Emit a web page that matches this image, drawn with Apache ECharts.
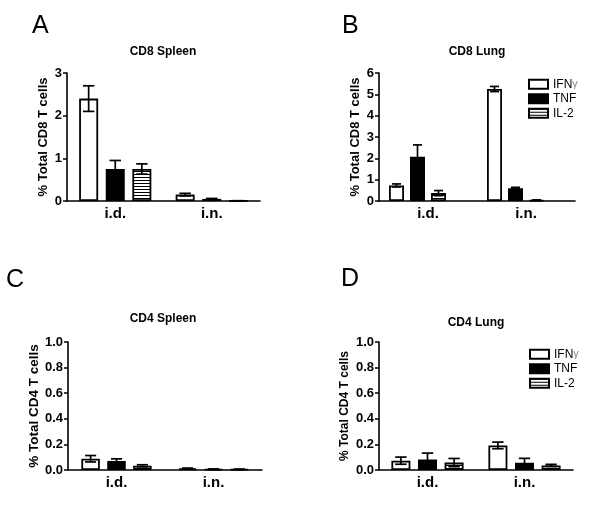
<!DOCTYPE html>
<html>
<head>
<meta charset="utf-8">
<script src="https://cdn.jsdelivr.net/npm/echarts@6/dist/echarts.min.js"></script>
<style>
html,body{margin:0;padding:0;background:#fff;}
#c{width:600px;height:516px;}
</style>
</head>
<body>
<div id="c"></div>
<script>
// ---------- data ----------
const categories = ['i.d.', 'i.n.'];
const seriesNames = ['IFNγ', 'TNF', 'IL-2'];

// CD8 Spleen (A)
const cd8SpleenIFN = [2.40, 0.15];
const cd8SpleenTNF = [0.75, 0.05];
const cd8SpleenIL2 = [0.75, 0.005];
const cd8SpleenIFNsem = [0.30, 0.03];
const cd8SpleenTNFsem = [0.20, 0.01];
const cd8SpleenIL2sem = [0.12, 0.002];

// CD8 Lung (B)
const cd8LungIFN = [0.73, 5.25];
const cd8LungTNF = [2.08, 0.60];
const cd8LungIL2 = [0.37, 0.04];
const cd8LungIFNsem = [0.07, 0.12];
const cd8LungTNFsem = [0.55, 0.04];
const cd8LungIL2sem = [0.12, 0.01];

// CD4 Spleen (C)
const cd4SpleenIFN = [0.088, 0.012];
const cd4SpleenTNF = [0.070, 0.006];
const cd4SpleenIL2 = [0.033, 0.005];
const cd4SpleenIFNsem = [0.025, 0.003];
const cd4SpleenTNFsem = [0.017, 0.002];
const cd4SpleenIL2sem = [0.008, 0.002];

// CD4 Lung (D)
const cd4LungIFN = [0.073, 0.192];
const cd4LungTNF = [0.082, 0.056];
const cd4LungIL2 = [0.058, 0.036];
const cd4LungIFNsem = [0.028, 0.026];
const cd4LungTNFsem = [0.050, 0.035];
const cd4LungIL2sem = [0.032, 0.008];

// axis ticks
const cd8SpleenTicks = [0, 1, 2, 3];
const cd8LungTicks = [0, 1, 2, 3, 4, 5, 6];
const cd4Ticks = [0.0, 0.2, 0.4, 0.6, 0.8, 1.0];

// ---------- styling ----------
const FONT = "'Liberation Sans', Arial, sans-serif";

// horizontal stripe pattern for IL-2
const pc = document.createElement('canvas');
pc.width = 4; pc.height = 3;
const pctx = pc.getContext('2d');
pctx.fillStyle = '#fff'; pctx.fillRect(0, 0, 4, 3);
pctx.fillStyle = '#000'; pctx.fillRect(0, 0, 4, 1);
const stripe = { image: pc, repeat: 'repeat' };
const fills = ['#ffffff', '#000000', stripe];

const panels = [
  { title: 'CD8 Spleen', letter: 'A', yName: '% Total CD8 T cells',
    grid: { left: 67, top: 73, width: 193, height: 128 },
    ticks: cd8SpleenTicks, dec: 0, bw: 19, slots: 3, nameGap: 17, nameSize: 13,
    vals: [cd8SpleenIFN, cd8SpleenTNF, cd8SpleenIL2],
    sems: [cd8SpleenIFNsem, cd8SpleenTNFsem, cd8SpleenIL2sem],
    titleX: 163, titleY: 46, letterX: 32, letterY: 14 },
  { title: 'CD8 Lung', letter: 'B', yName: '% Total CD8 T cells',
    grid: { left: 379, top: 73, width: 196, height: 128 },
    ticks: cd8LungTicks, dec: 0, bw: 15, slots: 4, nameGap: 17, nameSize: 13,
    vals: [cd8LungIFN, cd8LungTNF, cd8LungIL2],
    sems: [cd8LungIFNsem, cd8LungTNFsem, cd8LungIL2sem],
    titleX: 477, titleY: 46, letterX: 342, letterY: 14 },
  { title: 'CD4 Spleen', letter: 'C', yName: '% Total CD4 T cells',
    grid: { left: 68, top: 342, width: 194, height: 128 },
    ticks: cd4Ticks, dec: 1, bw: 18.5, slots: 3, nameGap: 27, nameSize: 13.5,
    vals: [cd4SpleenIFN, cd4SpleenTNF, cd4SpleenIL2],
    sems: [cd4SpleenIFNsem, cd4SpleenTNFsem, cd4SpleenIL2sem],
    titleX: 163, titleY: 313, letterX: 6, letterY: 268 },
  { title: 'CD4 Lung', letter: 'D', yName: '% Total CD4 T cells',
    grid: { left: 379, top: 342, width: 194, height: 128 },
    ticks: cd4Ticks, dec: 1, bw: 19, slots: 3, nameGap: 28, nameSize: 12,
    vals: [cd4LungIFN, cd4LungTNF, cd4LungIL2],
    sems: [cd4LungIFNsem, cd4LungTNFsem, cd4LungIL2sem],
    titleX: 476, titleY: 317, letterX: 341, letterY: 267 }
];

const GAP = 0.4;

function errRender(k, slots, bw) {
  const step = bw * (1 + GAP);
  const cap = bw * 0.6;
  return function (params, api) {
    const c = api.value(0), m = api.value(1), s = api.value(2);
    const p = api.coord([c, m]);
    const x = p[0] + (k - (slots - 1) / 2) * step;
    const yt = api.coord([c, m + s])[1];
    const yb = api.coord([c, Math.max(m - s, 0)])[1];
    const st = { stroke: '#000', lineWidth: 1.7 };
    return {
      type: 'group',
      children: [
        { type: 'line', shape: { x1: x, y1: yt, x2: x, y2: yb }, style: st },
        { type: 'line', shape: { x1: x - cap / 2, y1: yt, x2: x + cap / 2, y2: yt }, style: st },
        { type: 'line', shape: { x1: x - cap / 2, y1: yb, x2: x + cap / 2, y2: yb }, style: st }
      ]
    };
  };
}

const option = {
  animation: false,
  backgroundColor: '#fff',
  textStyle: { fontFamily: FONT },
  title: [], grid: [], xAxis: [], yAxis: [], series: [],
  legend: []
};

panels.forEach((p, i) => {
  option.title.push({
    text: p.title, left: p.titleX, top: p.titleY, textAlign: 'center', padding: 0,
    textStyle: { fontFamily: FONT, fontSize: 12, fontWeight: 'bold', color: '#000' }
  });
  option.title.push({
    text: p.letter, left: p.letterX, top: p.letterY, padding: 0,
    textStyle: { fontFamily: FONT, fontSize: 25, fontWeight: 'normal', color: '#000' }
  });
  option.grid.push(Object.assign({ containLabel: false }, p.grid));
  option.xAxis.push({
    type: 'category', gridIndex: i, data: categories,
    axisLine: { lineStyle: { color: '#000', width: 1.6 } },
    axisTick: { alignWithLabel: true, length: 4, lineStyle: { color: '#000', width: 1.5 } },
    axisLabel: { color: '#000', fontFamily: FONT, fontSize: 15, fontWeight: 'bold', margin: 5 },
    splitLine: { show: false }
  });
  const t = p.ticks;
  option.yAxis.push({
    type: 'value', gridIndex: i, min: t[0], max: t[t.length - 1],
    interval: t[1] - t[0],
    name: p.yName, nameLocation: 'middle', nameGap: p.nameGap,
    nameTextStyle: { color: '#000', fontFamily: FONT, fontSize: p.nameSize, fontWeight: 'bold' },
    axisLine: { show: true, lineStyle: { color: '#000', width: 1.6 } },
    axisTick: { show: true, length: 4, lineStyle: { color: '#000', width: 1.5 } },
    axisLabel: { color: '#000', fontFamily: FONT, fontSize: 13, fontWeight: 'bold', margin: 5,
      formatter: v => v.toFixed(p.dec) },
    splitLine: { show: false }
  });
  p.vals.forEach((arr, k) => {
    option.series.push({
      type: 'bar', name: seriesNames[k], xAxisIndex: i, yAxisIndex: i,
      data: arr, barWidth: p.bw, barGap: (GAP * 100) + '%',
      itemStyle: { color: fills[k], borderColor: '#000', borderWidth: 1.8 },
      z: 2
    });
  });
  if (p.slots > p.vals.length) {
    // empty placeholder slot (panel B bars sit left of the category tick)
    option.series.push({
      type: 'bar', name: '_slot', xAxisIndex: i, yAxisIndex: i,
      data: [], barWidth: p.bw, barGap: (GAP * 100) + '%'
    });
  }
  p.vals.forEach((arr, k) => {
    option.series.push({
      type: 'custom', name: seriesNames[k] + ' err', xAxisIndex: i, yAxisIndex: i,
      renderItem: errRender(k, p.slots, p.bw),
      data: arr.map((v, j) => [j, v, p.sems[k][j]]),
      z: 5, silent: true
    });
  });
});

function legendFor(left, top) {
  return {
    left: left, top: top, orient: 'vertical', padding: 0,
    data: seriesNames, itemWidth: 19, itemHeight: 9, itemGap: 2, selectedMode: false,
    icon: 'rect',
    formatter: n => n === 'IFNγ' ? '{t|IFN}{g|γ}' : '{t|' + n + '}',
    textStyle: {
      fontFamily: FONT, fontSize: 12, color: '#000', lineHeight: 12.5,
      rich: {
        t: { fontFamily: FONT, fontSize: 12, color: '#000', lineHeight: 12.5 },
        g: { fontFamily: FONT, fontSize: 11, color: '#888', lineHeight: 12.5 }
      }
    }
  };
}
option.legend.push(legendFor(528, 78));
option.legend.push(legendFor(529, 348));

const chart = echarts.init(document.getElementById('c'), null, { renderer: 'canvas' });
chart.setOption(option);
</script>
</body>
</html>
